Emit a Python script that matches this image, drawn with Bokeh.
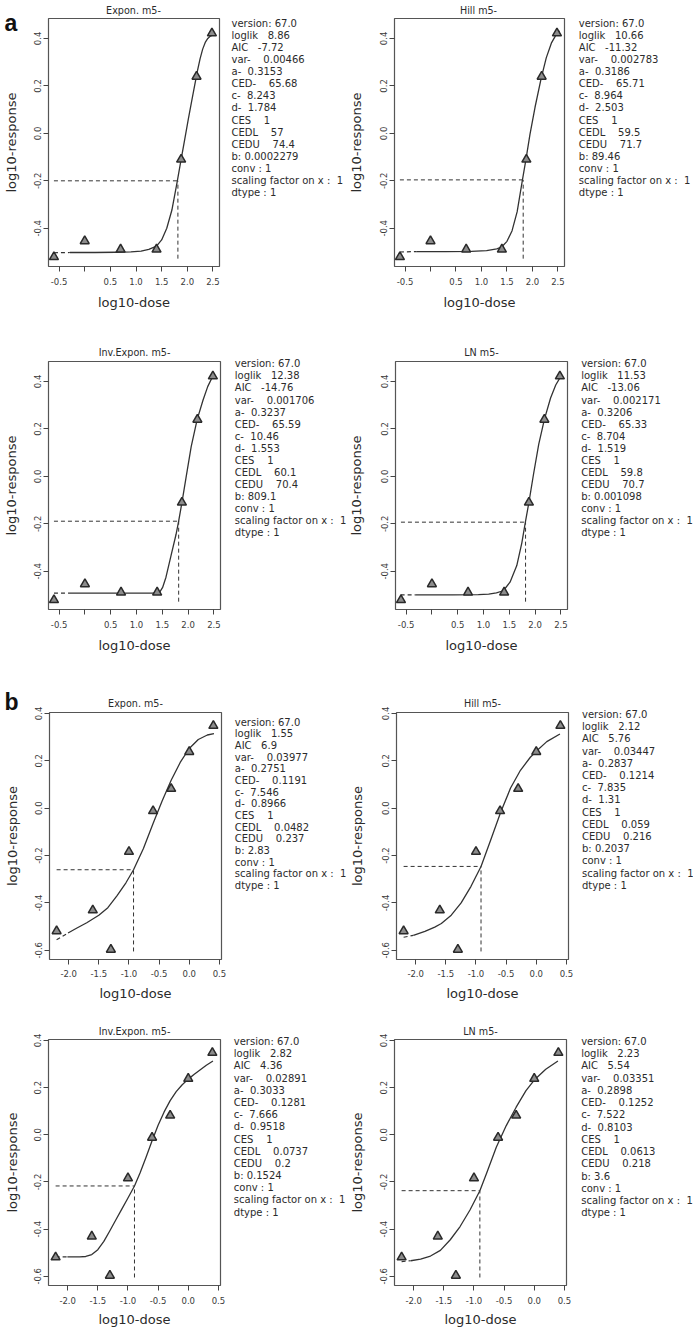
from bokeh.plotting import figure
from bokeh.models import FixedTicker, Range1d, GridBox
from bokeh.layouts import column, row
from bokeh.core.properties import value
from bokeh.embed import file_html
from bokeh.resources import INLINE

FONT = "DejaVu Sans"
TXT = "#2b2b2b"
INK = "#333333"

# ---------------- data ----------------
TITLES = ["Expon. m5-", "Hill m5-", "Inv.Expon. m5-", "LN m5-",
          "Expon. m5-", "Hill m5-", "Inv.Expon. m5-", "LN m5-"]
PANEL_LETTERS = ["a", "b"]

DOSE_A = [-0.6, 0.0, 0.7, 1.4, 1.88, 2.18, 2.48]
RESP_A = [-0.521, -0.454, -0.489, -0.489, -0.110, 0.239, 0.422]
DOSE_B = [-2.2, -1.6, -1.3, -1.0, -0.6, -0.3, 0.0, 0.4]
RESP_B = [-0.519, -0.431, -0.597, -0.184, -0.012, 0.082, 0.238, 0.348]

X_TICKS_A = [-0.5, 0.0, 0.5, 1.0, 1.5, 2.0, 2.5]
X_LABELS_A = ["-0.5", "", "0.5", "1.0", "1.5", "2.0", "2.5"]
X_TICKS_B = [-2.0, -1.5, -1.0, -0.5, 0.0, 0.5]
X_LABELS_B = ["-2.0", "-1.5", "-1.0", "-0.5", "0.0", "0.5"]
Y_TICKS_A = [-0.4, -0.2, 0.0, 0.2, 0.4]
Y_LABELS_A = ["-0.4", "-0.2", "0.0", "0.2", "0.4"]
Y_TICKS_B = [-0.6, -0.4, -0.2, 0.0, 0.2, 0.4]
Y_LABELS_B = ["-0.6", "-0.4", "-0.2", "0.0", "0.2", "0.4"]

X_RANGE_A = (-0.706, 2.628)
Y_RANGE_A = (-0.561, 0.484)
X_RANGE_B = (-2.318, 0.535)
Y_RANGE_B = (-0.639, 0.404)

# fitted curves; dashed start + solid part
EXPON_A_DASH_X = [-0.6, -0.29]
EXPON_A_DASH_Y = [-0.503, -0.502]
EXPON_A_X = [-0.29, 0.2, 0.6, 0.9, 1.1, 1.25, 1.4, 1.5, 1.6, 1.7, 1.8, 1.88, 1.95,
             2.02, 2.08, 2.14, 2.2, 2.25, 2.3, 2.35, 2.4, 2.45, 2.5]
EXPON_A_Y = [-0.502, -0.502, -0.501, -0.499, -0.496, -0.489, -0.475, -0.449, -0.400,
             -0.323, -0.208, -0.110, -0.025, 0.060, 0.130, 0.198, 0.265, 0.315, 0.355,
             0.383, 0.400, 0.410, 0.415]

HILL_A_DASH_X = [-0.6, -0.28]
HILL_A_DASH_Y = [-0.500, -0.498]
HILL_A_X = [-0.28, 0.3, 0.8, 1.1, 1.3, 1.4, 1.5, 1.6, 1.7, 1.8, 1.873, 1.95, 2.05,
            2.17, 2.27, 2.37, 2.47, 2.53]
HILL_A_Y = [-0.498, -0.498, -0.497, -0.494, -0.487, -0.478, -0.455, -0.410, -0.330,
            -0.200, -0.109, -0.005, 0.110, 0.232, 0.318, 0.380, 0.418, 0.432]

INVEXP_A_DASH_X = [-0.6, -0.31]
INVEXP_A_DASH_Y = [-0.492, -0.492]
INVEXP_A_X = [-0.31, 0.5, 1.0, 1.3, 1.4, 1.45, 1.506, 1.571, 1.669, 1.766, 1.817,
              1.88, 1.96, 2.06, 2.175, 2.29, 2.38, 2.48, 2.51]
INVEXP_A_Y = [-0.492, -0.492, -0.492, -0.492, -0.4915, -0.488, -0.468, -0.425,
              -0.334, -0.245, -0.189, -0.111, -0.005, 0.125, 0.239, 0.322, 0.378,
              0.423, 0.430]

LN_A_DASH_X = [-0.607, -0.313]
LN_A_DASH_Y = [-0.499, -0.499]
LN_A_X = [-0.313, 0.4, 0.9, 1.1, 1.25, 1.384, 1.514, 1.645, 1.743, 1.808, 1.88,
          1.97, 2.07, 2.18, 2.30, 2.40, 2.49, 2.52]
LN_A_Y = [-0.499, -0.499, -0.498, -0.496, -0.491, -0.482, -0.446, -0.376, -0.280,
          -0.197, -0.110, 0.010, 0.135, 0.240, 0.330, 0.385, 0.418, 0.425]

EXPON_B_DASH_X = [-2.2, -2.011]
EXPON_B_DASH_Y = [-0.556, -0.527]
EXPON_B_X = [-2.011, -1.87, -1.7, -1.5, -1.35, -1.2, -1.05, -0.924, -0.76, -0.6,
             -0.45, -0.3, -0.15, 0.0, 0.15, 0.3, 0.41]
EXPON_B_Y = [-0.527, -0.507, -0.484, -0.452, -0.420, -0.370, -0.315, -0.260, -0.170,
             -0.065, 0.030, 0.118, 0.193, 0.252, 0.290, 0.309, 0.315]

HILL_B_DASH_X = [-2.2, -2.038]
HILL_B_DASH_Y = [-0.545, -0.537]
HILL_B_X = [-2.038, -1.847, -1.683, -1.574, -1.41, -1.246, -1.082, -0.916, -0.754,
            -0.59, -0.426, -0.262, -0.098, 0.0, 0.175, 0.393]
HILL_B_Y = [-0.537, -0.520, -0.502, -0.487, -0.452, -0.400, -0.330, -0.246, -0.133,
            -0.017, 0.085, 0.160, 0.215, 0.240, 0.281, 0.313]

INVEXP_B_DASH_X = [-2.2, -2.005]
INVEXP_B_DASH_Y = [-0.518, -0.518]
INVEXP_B_X = [-2.005, -1.8, -1.7, -1.6, -1.5, -1.4, -1.3, -1.2, -1.1, -1.0, -0.892,
              -0.8, -0.7, -0.6, -0.5, -0.4, -0.3, -0.2, -0.1, 0.0, 0.1, 0.2, 0.3, 0.41]
INVEXP_B_Y = [-0.518, -0.518, -0.516, -0.508, -0.487, -0.452, -0.407, -0.360, -0.314,
              -0.268, -0.217, -0.162, -0.095, -0.025, 0.040, 0.097, 0.145, 0.183,
              0.212, 0.236, 0.257, 0.276, 0.295, 0.313]

LN_B_DASH_X = [-2.2, -2.049]
LN_B_DASH_Y = [-0.538, -0.534]
LN_B_X = [-2.049, -1.885, -1.721, -1.557, -1.393, -1.23, -1.066, -0.902, -0.792,
          -0.628, -0.464, -0.3, -0.137, 0.0, 0.191, 0.393]
LN_B_Y = [-0.534, -0.527, -0.514, -0.490, -0.445, -0.389, -0.319, -0.237, -0.164,
          -0.052, 0.039, 0.117, 0.187, 0.232, 0.278, 0.313]

# CED reference lines
CED_X = [1.817, 1.818, 1.817, 1.815, -0.924, -0.916, -0.892, -0.902]
CED_Y = [-0.200, -0.196, -0.189, -0.193, -0.260, -0.246, -0.217, -0.237]
HLINE_FROM_X = [-0.6, -0.6, -0.6, -0.6, -2.2, -2.2, -2.2, -2.2]
VLINE_FROM_Y = [-0.528, -0.528, -0.528, -0.528, -0.605, -0.605, -0.605, -0.605]

# fit statistics printed beside each panel
VERSION = "67.0"
LOGLIK = ["8.86", "10.66", "12.38", "11.53", "1.55", "2.12", "2.82", "2.23"]
AIC = ["-7.72", "-11.32", "-14.76", "-13.06", "6.9", "5.76", "4.36", "5.54"]
VAR = ["0.00466", "0.002783", "0.001706", "0.002171", "0.03977", "0.03447", "0.02891", "0.03351"]
A_PAR = ["0.3153", "0.3186", "0.3237", "0.3206", "0.2751", "0.2837", "0.3033", "0.2898"]
CED = ["65.68", "65.71", "65.59", "65.33", "0.1191", "0.1214", "0.1281", "0.1252"]
C_PAR = ["8.243", "8.964", "10.46", "8.704", "7.546", "7.835", "7.666", "7.522"]
D_PAR = ["1.784", "2.503", "1.553", "1.519", "0.8966", "1.31", "0.9518", "0.8103"]
CES = ["1", "1", "1", "1", "1", "1", "1", "1"]
CEDL = ["57", "59.5", "60.1", "59.8", "0.0482", "0.059", "0.0737", "0.0613"]
CEDU = ["74.4", "71.7", "70.4", "70.7", "0.237", "0.216", "0.2", "0.218"]
B_PAR = ["0.0002279", "89.46", "809.1", "0.001098", "2.83", "0.2037", "0.1524", "3.6"]
CONV = ["1"] * 8
SCALING = ["1"] * 8
DTYPE = ["1"] * 8

CURVES = [
    (EXPON_A_DASH_X, EXPON_A_DASH_Y, EXPON_A_X, EXPON_A_Y),
    (HILL_A_DASH_X, HILL_A_DASH_Y, HILL_A_X, HILL_A_Y),
    (INVEXP_A_DASH_X, INVEXP_A_DASH_Y, INVEXP_A_X, INVEXP_A_Y),
    (LN_A_DASH_X, LN_A_DASH_Y, LN_A_X, LN_A_Y),
    (EXPON_B_DASH_X, EXPON_B_DASH_Y, EXPON_B_X, EXPON_B_Y),
    (HILL_B_DASH_X, HILL_B_DASH_Y, HILL_B_X, HILL_B_Y),
    (INVEXP_B_DASH_X, INVEXP_B_DASH_Y, INVEXP_B_X, INVEXP_B_Y),
    (LN_B_DASH_X, LN_B_DASH_Y, LN_B_X, LN_B_Y),
]

# ---------------- layout (pixels) ----------------
PAGE_W, PAGE_H = 693, 1329
ROW_H = [335, 325, 343, 326]
COL_W = [345, 348]
FW, FH = 172, 248
FRAME_LEFT = [47, 47, 48, 50, 49, 51, 48, 49]      # within each figure
FRAME_TOP = [18, 18, 26, 26, 52, 52, 36, 36]       # within each figure
YLABEL_STANDOFF = [13, 14, 13, 15, 13, 15, 12, 13]
XTICK_STANDOFF = [6, 6, 5, 6]
XLABEL_STANDOFF = [7, 7, 6, 5]

TITLE_Y = [10.3, 10.3, 352.3, 352.3, 702.7, 702.7, 1030.7, 1030.7]
TEXT_X = [231, 578.3, 234.3, 580.7, 234.3, 581.5, 233.3, 580.7]
TEXT_Y0 = [22.7, 22.7, 363.3, 363.3, 721.7, 714, 1041, 1041]
TEXT_DY = [12.11, 12.11, 12.07, 12.07, 11.66, 12.2, 12.19, 12.23]
LETTER_POS = [(4, 22), (4, 701.7)]

NB = "\u00a0"


def sp(n):
    return NB * n


def stat_lines(i):
    return [
        "version: " + VERSION,
        "loglik" + sp(3) + LOGLIK[i],
        "AIC" + sp(3) + AIC[i],
        "var-" + sp(4) + VAR[i],
        "a-" + sp(2) + A_PAR[i],
        "CED-" + sp(4) + CED[i],
        "c-" + sp(2) + C_PAR[i],
        "d-" + sp(2) + D_PAR[i],
        "CES" + sp(4) + CES[i],
        "CEDL" + sp(4) + CEDL[i],
        "CEDU" + sp(4) + CEDU[i],
        "b:" + sp(1) + B_PAR[i],
        "conv :" + sp(1) + CONV[i],
        "scaling factor on x :" + sp(2) + SCALING[i],
        "dtype :" + sp(1) + DTYPE[i],
    ]


def make_panel(i):
    r, c = divmod(i, 2)
    grp_b = i >= 4
    xr = X_RANGE_B if grp_b else X_RANGE_A
    yr = Y_RANGE_B if grp_b else Y_RANGE_A
    W, H = COL_W[c], ROW_H[r]
    bl, bt = FRAME_LEFT[i], FRAME_TOP[i]
    br = W - bl - FW
    bb = H - bt - FH

    p = figure(width=W, height=H, x_range=Range1d(*xr), y_range=Range1d(*yr),
               output_backend="svg", toolbar_location=None, title=None,
               min_border_left=bl, min_border_right=br,
               min_border_top=bt, min_border_bottom=bb)
    p.grid.visible = False
    p.outline_line_color = "#555555"
    p.outline_line_width = 1.2
    p.background_fill_color = None
    p.border_fill_color = None

    xt = X_TICKS_B if grp_b else X_TICKS_A
    xl = X_LABELS_B if grp_b else X_LABELS_A
    yt = Y_TICKS_B if grp_b else Y_TICKS_A
    yl = Y_LABELS_B if grp_b else Y_LABELS_A
    xa, ya = p.xaxis[0], p.yaxis[0]
    xa.ticker = FixedTicker(ticks=xt, minor_ticks=[])
    ya.ticker = FixedTicker(ticks=yt, minor_ticks=[])
    xa.major_label_overrides = {t: s for t, s in zip(xt, xl)}
    ya.major_label_overrides = {t: s for t, s in zip(yt, yl)}
    for ax in (xa, ya):
        ax.axis_line_color = None
        ax.major_tick_out = 5
        ax.major_tick_in = 0
        ax.major_tick_line_color = "#444444"
        ax.minor_tick_line_color = None
        ax.major_label_text_font = FONT
        ax.major_label_text_font_size = "8.5px"
        ax.major_label_text_color = "#3a3a3a"
        ax.axis_label_text_font = FONT
        ax.axis_label_text_font_size = "13px"
        ax.axis_label_text_font_style = "normal"
        ax.axis_label_text_color = TXT
    xa.axis_label = "log10-dose"
    ya.axis_label = "log10-response"
    xa.major_label_standoff = XTICK_STANDOFF[r]
    xa.axis_label_standoff = XLABEL_STANDOFF[r]
    ya.major_label_orientation = "vertical"
    ya.major_label_standoff = 2
    ya.axis_label_standoff = YLABEL_STANDOFF[i]

    # CED reference lines
    p.line([HLINE_FROM_X[i], CED_X[i]], [CED_Y[i], CED_Y[i]],
           line_color=INK, line_width=1, line_dash="4 3")
    p.line([CED_X[i], CED_X[i]], [VLINE_FROM_Y[i], CED_Y[i]],
           line_color=INK, line_width=1, line_dash="4 3")

    # fitted curve
    dx, dy, cx, cy = CURVES[i]
    p.line(dx, dy, line_color=INK, line_width=1.2, line_dash="4 3")
    p.line(cx, cy, line_color=INK, line_width=1.3, line_join="round")

    # observations
    xs = DOSE_B if grp_b else DOSE_A
    ys = RESP_B if grp_b else RESP_A
    p.scatter(xs, ys, marker="triangle", size=9, fill_color="#8c8c8c",
              line_color="#2a2a2a", line_width=1.5)
    return p


panels = [make_panel(i) for i in range(8)]
grid = column(row(panels[0], panels[1]), row(panels[2], panels[3]),
              row(panels[4], panels[5]), row(panels[6], panels[7]))

# transparent overlay carrying titles, statistics and panel letters (page pixels)
ov = figure(width=PAGE_W, height=PAGE_H, x_range=Range1d(0, PAGE_W),
            y_range=Range1d(PAGE_H, 0), output_backend="svg",
            toolbar_location=None, title=None, x_axis_type=None, y_axis_type=None,
            min_border=0)
ov.outline_line_color = None
ov.background_fill_color = None
ov.border_fill_color = None
ov.grid.visible = False

row_top = [0, ROW_H[0], ROW_H[0] + ROW_H[1], ROW_H[0] + ROW_H[1] + ROW_H[2]]
col_left = [0, COL_W[0]]
for i in range(8):
    r, c = divmod(i, 2)
    tx = col_left[c] + FRAME_LEFT[i] + FW / 2
    ov.text(x=[tx], y=[TITLE_Y[i]], text=[TITLES[i]], text_font=value(FONT),
            text_font_size=value("9.6px"), text_color=TXT,
            text_align="center", text_baseline="middle")
    lines = stat_lines(i)
    ov.text(x=[TEXT_X[i]] * len(lines),
            y=[TEXT_Y0[i] + k * TEXT_DY[i] for k in range(len(lines))],
            text=lines, text_font=value(FONT), text_font_size=value("10px"),
            text_color=TXT, text_align="left", text_baseline="middle")

ov.text(x=[LETTER_POS[0][0], LETTER_POS[1][0]], y=[LETTER_POS[0][1], LETTER_POS[1][1]],
        text=PANEL_LETTERS, text_font=value("Liberation Sans"),
        text_font_size=value("23px"), text_font_style="bold", text_color="#111111",
        text_align="left", text_baseline="alphabetic")

page = GridBox(children=[(grid, 0, 0), (ov, 0, 0)])

open("out.html", "w").write(file_html(page, INLINE))
